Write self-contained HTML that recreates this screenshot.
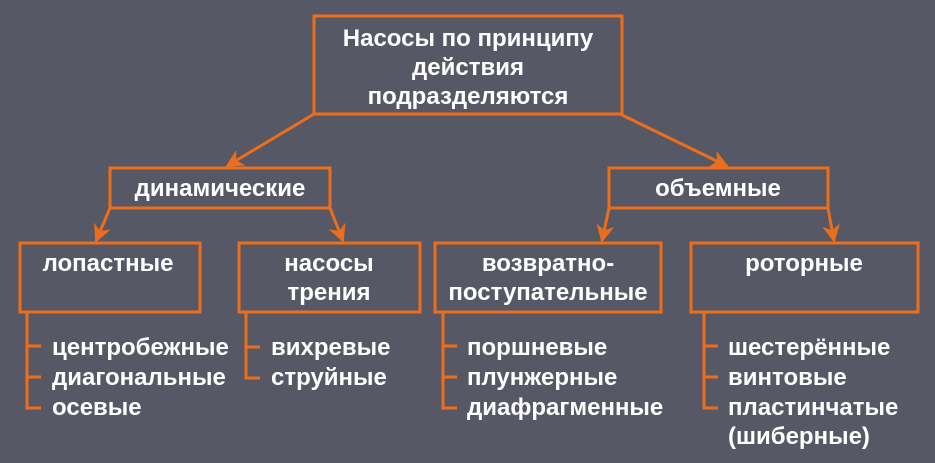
<!DOCTYPE html>
<html><head><meta charset="utf-8"><style>
html,body{margin:0;padding:0;background:#575865;}
svg{display:block}
text{font-family:"Liberation Sans",Arial,sans-serif;font-weight:bold;fill:#fff;font-size:24px}
</style></head><body>
<svg width="935" height="463" viewBox="0 0 935 463">
<defs><marker id="a" viewBox="0 0 10 10" refX="9" refY="5" markerWidth="6" markerHeight="6" orient="auto"><path d="M0,0L10,5L0,10L3,5z" fill="#ec6e1c"/></marker></defs>
<rect width="935" height="463" fill="#575865"/>
<g fill="none" stroke="#ec6e1c" stroke-width="3">
<rect x="314" y="16" width="308" height="98"/>
<rect x="110" y="168" width="220" height="40"/>
<rect x="609" y="168" width="219" height="40"/>
<rect x="20" y="243" width="180" height="69"/>
<rect x="239" y="243" width="181" height="69"/>
<rect x="435" y="243" width="226" height="69"/>
<rect x="691" y="243" width="227" height="69"/>
<line x1="314" y1="114" x2="227" y2="166" marker-end="url(#a)"/>
<line x1="620" y1="114" x2="727" y2="166" marker-end="url(#a)"/>
<line x1="110" y1="208" x2="96" y2="241" marker-end="url(#a)"/>
<line x1="330" y1="208" x2="343" y2="241" marker-end="url(#a)"/>
<line x1="609" y1="208" x2="602" y2="241" marker-end="url(#a)"/>
<line x1="828" y1="208" x2="834" y2="241" marker-end="url(#a)"/>
<path d="M27,312V408H41M27,346H41M27,377H41"/>
<path d="M246,312V378H260M246,347H260"/>
<path d="M443,312V408H457M443,346H457M443,377H457"/>
<path d="M704,312V408H718M704,346H718M704,377H718"/>
</g>
<g text-anchor="middle">
<text x="468" y="46">Насосы по принципу</text>
<text x="468" y="75">действия</text>
<text x="468" y="104">подразделяются</text>
<text x="220" y="196">динамические</text>
<text x="718" y="196">объемные</text>
<text x="108" y="271">лопастные</text>
<text x="329" y="271">насосы</text>
<text x="329" y="300">трения</text>
<text x="548" y="271">возвратно-</text>
<text x="548" y="300">поступательные</text>
<text x="804" y="271">роторные</text>
</g>
<text x="52" y="355">центробежные</text>
<text x="52" y="385">диагональные</text>
<text x="52" y="415">осевые</text>
<text x="271" y="355">вихревые</text>
<text x="271" y="385">струйные</text>
<text x="467" y="355">поршневые</text>
<text x="467" y="385">плунжерные</text>
<text x="467" y="415">диафрагменные</text>
<text x="728" y="355">шестерённые</text>
<text x="728" y="385">винтовые</text>
<text x="728" y="415">пластинчатые</text>
<text x="728" y="444">(шиберные)</text>
</svg>
</body></html>
